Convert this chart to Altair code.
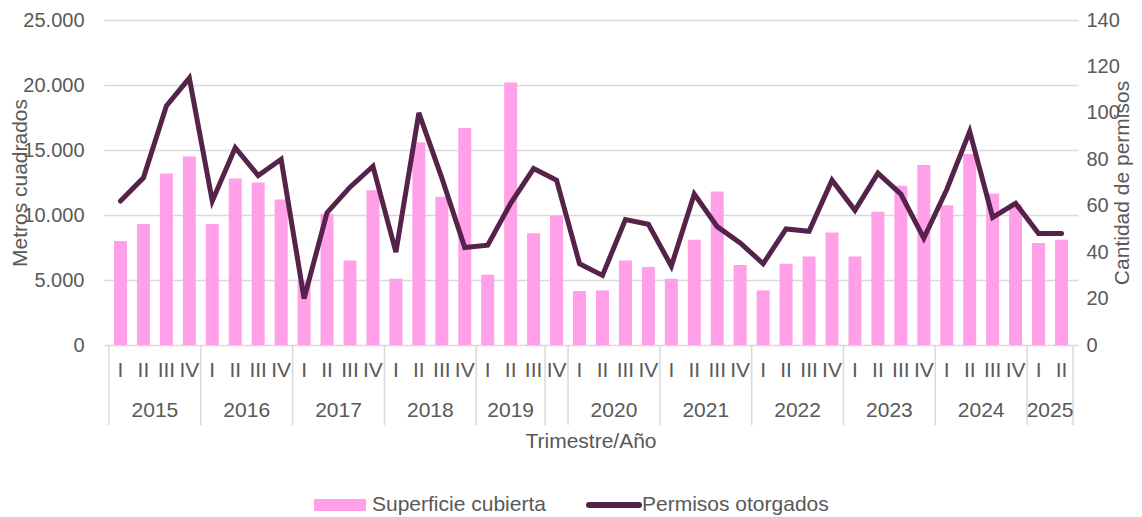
import altair as alt
import pandas as pd

# ---------------- data ----------------
quarters = ["I", "II", "III", "IV"] * 10 + ["I", "II"]
superficie = [
    8000, 9300, 13200, 14500,     # 2015
    9300, 12800, 12500, 11200,    # 2016
    4900, 10100, 6500, 11900,     # 2017
    5100, 15600, 11400, 16700,    # 2018
    5400, 20200, 8600, 9950,      # 2019
    4150, 4200, 6500, 6000,       # 2020
    5100, 8100, 11800, 6150,      # 2021
    4200, 6250, 6800, 8650,       # 2022
    6800, 10250, 12250, 13850,    # 2023
    10750, 14700, 11650, 10800,   # 2024
    7850, 8100,                   # 2025
]
permisos = [
    62, 72, 103, 115,
    62, 85, 73, 80,
    20, 57, 68, 77,
    40, 100, 72, 42,
    43, 61, 76, 71,
    35, 30, 54, 52,
    34, 65, 51, 44,
    35, 50, 49, 71,
    58, 74, 65, 46,
    67, 92, 55, 61,
    48, 48,
]
year_labels = ["2015", "2016", "2017", "2018", "2019", "", "2020", "2021",
               "2022", "2023", "2024", "2025"]
group_sizes = [4, 4, 4, 4, 3, 1, 4, 4, 4, 4, 4, 2]
series_names = ["Superficie cubierta", "Permisos otorgados"]
left_ticks = [0, 5000, 10000, 15000, 20000, 25000]
right_ticks = [0, 20, 40, 60, 80, 100, 120, 140]
axis_title_x = "Trimestre/Año"

# ---------------- tables ----------------
n = len(superficie)
df = pd.DataFrame({
    "pos": [i + 0.5 for i in range(n)],
    "trimestre": quarters,
    "sup": superficie,
    "perm": permisos,
})
bounds = [0]
for s in group_sizes:
    bounds.append(bounds[-1] + s)
ydf = pd.DataFrame({"year": year_labels, "start": bounds[:-1], "end": bounds[1:]})
bdf = pd.DataFrame({"b": bounds})

# ---------------- style ----------------
W, H = 974, 325
PINK = "#FFA0E8"
DARK = "#55234A"
GRAY = "#595959"
GRID = "#D9D9D9"
FONT = "Liberation Sans"
FS = 21
TFS = 20

xscale = alt.Scale(domain=[0, n], nice=False, zero=False)

bars = alt.Chart(df).mark_bar(size=13, color=PINK).encode(
    x=alt.X("pos:Q", scale=xscale, axis=None),
    y=alt.Y(
        "sup:Q",
        scale=alt.Scale(domain=[0, 25000], nice=False),
        axis=alt.Axis(
            values=left_ticks,
            labelExpr="replace(format(datum.value, ','), ',', '.')",
            grid=True, gridColor=GRID, gridWidth=1.5,
            labelPadding=20,
            title="Metros cuadrados",
            titleAngle=270, titleX=-84, titleY=H / 2,
            titleAlign="center", titleBaseline="middle",
        ),
    ),
)

line = alt.Chart(df).mark_line(
    color=DARK, strokeWidth=5, strokeCap="round", strokeJoin="miter"
).encode(
    x=alt.X("pos:Q", scale=xscale, axis=None),
    y=alt.Y(
        "perm:Q",
        scale=alt.Scale(domain=[0, 140], nice=False),
        axis=alt.Axis(
            orient="right", values=right_ticks, grid=False,
            labelPadding=8,
            title="Cantidad de permisos",
            titleAngle=270, titleX=44, titleY=H / 2,
            titleAlign="center", titleBaseline="middle",
        ),
    ),
)

sep = alt.Chart(bdf).mark_rule(color=GRID, strokeWidth=1.5).encode(
    x=alt.X("b:Q", scale=xscale, axis=None),
    y=alt.value(H),
    y2=alt.value(H + 80),
)

qtext = alt.Chart(df).mark_text(
    font=FONT, fontSize=FS, color=GRAY, baseline="middle"
).encode(
    x=alt.X("pos:Q", scale=xscale, axis=None),
    y=alt.value(H + 26),
    text="trimestre:N",
)

ytext = alt.Chart(ydf).transform_calculate(
    mid="(datum.start + datum.end) / 2"
).mark_text(font=FONT, fontSize=FS, color=GRAY, baseline="middle").encode(
    x=alt.X("mid:Q", scale=xscale, axis=None),
    y=alt.value(H + 66),
    text="year:N",
)

xtitle = alt.Chart(pd.DataFrame({"t": [axis_title_x]})).mark_text(
    font=FONT, fontSize=FS, color=GRAY, baseline="middle"
).encode(x=alt.value(W / 2), y=alt.value(H + 97), text="t:N")

leg1_sym = alt.Chart(pd.DataFrame({"name": [series_names[0]]})).mark_rect(color=PINK).encode(
    x=alt.value(210), x2=alt.value(262), y=alt.value(H + 154), y2=alt.value(H + 166)
)
leg1_txt = alt.Chart(pd.DataFrame({"name": [series_names[0]]})).mark_text(
    font=FONT, fontSize=FS, color=GRAY, align="left", baseline="middle"
).encode(x=alt.value(268), y=alt.value(H + 160), text="name:N")

leg2_sym = alt.Chart(pd.DataFrame({"name": [series_names[1]]})).mark_rule(
    color=DARK, strokeWidth=6, strokeCap="round"
).encode(x=alt.value(485), x2=alt.value(535), y=alt.value(H + 160))
leg2_txt = alt.Chart(pd.DataFrame({"name": [series_names[1]]})).mark_text(
    font=FONT, fontSize=FS, color=GRAY, align="left", baseline="middle"
).encode(x=alt.value(538), y=alt.value(H + 160), text="name:N")

chart = alt.layer(
    bars, sep, line, qtext, ytext, xtitle, leg1_sym, leg1_txt, leg2_sym, leg2_txt
).resolve_scale(y="independent").properties(
    width=W, height=H,
    autosize=alt.AutoSizeParams(type="none"),
    padding={"left": 96, "top": 12, "right": 56, "bottom": 172},
).configure_view(stroke=None).configure_axis(
    labelFont=FONT, labelFontSize=TFS, labelColor=GRAY,
    titleFont=FONT, titleFontSize=FS, titleColor=GRAY, titleFontWeight="normal",
    domain=False, ticks=False,
)

chart.save("out.html", embed_options={"renderer": "svg", "actions": False})
